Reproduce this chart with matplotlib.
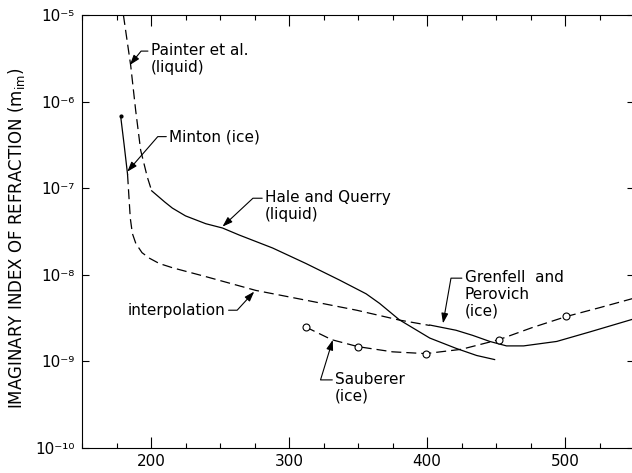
import matplotlib
matplotlib.use('Agg')
import matplotlib.pyplot as plt
from matplotlib.ticker import MultipleLocator, NullLocator, FuncFormatter
import numpy as np

plt.rcParams['font.family'] = ['DejaVu Sans']
plt.rcParams['mathtext.fontset'] = 'dejavusans'

# wavelength (nm) and imaginary index of refraction for each source
painter_wl = [180.0, 185.3, 188.9, 192.5, 197.3, 200.5]
painter_k = [1.0e-5, 2.6e-6, 7.9e-7, 2.75e-7, 1.35e-7, 9.3e-8]

hale_wl = [200.5, 210.0, 215.5, 225.0, 239.7, 251.8, 263.9, 288.1, 312.3,
           336.5, 355.9, 365.6, 380.0, 402.0, 421.3, 436.0, 449.0]
hale_k = [9.33e-8, 6.92e-8, 5.89e-8, 4.79e-8, 3.89e-8, 3.47e-8, 2.88e-8,
          2.04e-8, 1.35e-8, 8.71e-9, 6.03e-9, 4.68e-9, 3.02e-9, 1.86e-9,
          1.41e-9, 1.17e-9, 1.05e-9]

minton_wl = [178.0, 180.5, 183.0]
minton_k = [6.8e-7, 3.2e-7, 1.45e-7]

interp_wl = [183.0, 184.0, 185.0, 186.5, 189.0, 193.5, 199.0, 206.0, 216.0,
             240.0, 276.0, 312.0, 349.0, 380.0, 402.0]
interp_k = [1.45e-7, 8.0e-8, 4.5e-8, 3.0e-8, 2.3e-8, 1.8e-8, 1.55e-8, 1.35e-8,
            1.2e-8, 9.5e-9, 6.6e-9, 5.1e-9, 3.9e-9, 3.0e-9, 2.6e-9]

grenfell_wl = [402.0, 421.0, 433.0, 445.5, 457.6, 470.0, 494.0, 518.0, 550.0]
grenfell_k = [2.63e-9, 2.29e-9, 2.0e-9, 1.70e-9, 1.51e-9, 1.51e-9, 1.70e-9,
              2.19e-9, 3.1e-9]

sauberer_wl = [312.0, 331.0, 350.0, 375.0, 399.0, 425.0, 452.0, 476.0, 501.0,
               525.0, 550.0]
sauberer_k = [2.5e-9, 1.78e-9, 1.48e-9, 1.29e-9, 1.23e-9, 1.38e-9, 1.78e-9,
              2.45e-9, 3.3e-9, 4.17e-9, 5.37e-9]
sauberer_pts = [0, 2, 4, 6, 8]   # measured points, drawn as open circles

LW = 0.9
DASH = (0, (8, 4))
SUP = str.maketrans('-0123456789', '⁻⁰¹²³⁴⁵⁶⁷⁸⁹')

fig = plt.figure(figsize=(6.32, 4.73), dpi=100)
ax = fig.add_axes([82 / 632, 25 / 473, 552 / 632, 433 / 473])

ax.plot(painter_wl, painter_k, color='black', lw=LW, ls=DASH)
ax.plot(hale_wl, hale_k, color='black', lw=LW)
ax.plot(minton_wl, minton_k, color='black', lw=LW)
ax.plot(minton_wl[:1], minton_k[:1], 'o', color='black', ms=2)
ax.plot(interp_wl, interp_k, color='black', lw=LW, ls=DASH)
ax.plot(grenfell_wl, grenfell_k, color='black', lw=LW)
ax.plot(sauberer_wl, sauberer_k, color='black', lw=LW, ls=DASH,
        marker='o', markevery=sauberer_pts, ms=5, mfc='white', mec='black',
        mew=0.8)

ax.set_yscale('log')
ax.set_xlim(150, 550)
ax.set_ylim(1e-10, 1e-5)
ax.xaxis.set_major_locator(MultipleLocator(100))
ax.xaxis.set_minor_locator(MultipleLocator(25))
ax.yaxis.set_minor_locator(NullLocator())
ax.yaxis.set_major_formatter(FuncFormatter(
    lambda v, pos: '10' + str(int(round(np.log10(v)))).translate(SUP)))

ax.tick_params(which='both', direction='in', top=True, right=True,
               width=0.8, labelsize=11)
ax.tick_params(axis='x', which='major', length=8, pad=4)
ax.tick_params(axis='x', which='minor', length=3.5)
ax.tick_params(axis='y', which='major', length=5, pad=5, labelsize=11)
for sp in ax.spines.values():
    sp.set_linewidth(0.8)

ax.set_ylabel(r'IMAGINARY INDEX OF REFRACTION ($\mathregular{m_{im}}$)',
              fontsize=12)
ax.yaxis.set_label_coords(-0.1, 0.485)


def callout(text, tip, at, angle, ha='left', rel=(0, 0.5)):
    ax.annotate(text, xy=tip, xytext=at, ha=ha, va='center', fontsize=11,
                linespacing=1.15,
                arrowprops=dict(arrowstyle='-|>,head_length=0.5,head_width=0.17',
                                mutation_scale=12, color='black', lw=0.8,
                                connectionstyle=f'angle,angleA=0,angleB={angle},rad=0',
                                relpos=rel, patchA=None, shrinkA=2, shrinkB=0))


callout('Painter et al.\n(liquid)', (184.7, 2.65e-6), (199.8, 3.1e-6), 51,
        rel=(0, 0.75))
callout('Minton (ice)', (182.8, 1.55e-7), (213.1, 3.94e-7), 49)
callout('Hale and Querry\n(liquid)', (251.8, 3.6e-8), (282.6, 6.2e-8), 43,
        rel=(0, 0.75))
callout('interpolation', (274.8, 6.4e-9), (254.2, 3.9e-9), 47.5, ha='right',
        rel=(1, 0.5))
callout('Sauberer\n(ice)', (331.7, 1.77e-9), (333.4, 4.95e-10), 73,
        rel=(0, 0.75))
callout('Grenfell  and\nPerovich\n(ice)', (411.6, 2.75e-9), (427.3, 5.97e-9),
        80, rel=(0, 0.83))

fig.savefig('out.png', dpi=100)
